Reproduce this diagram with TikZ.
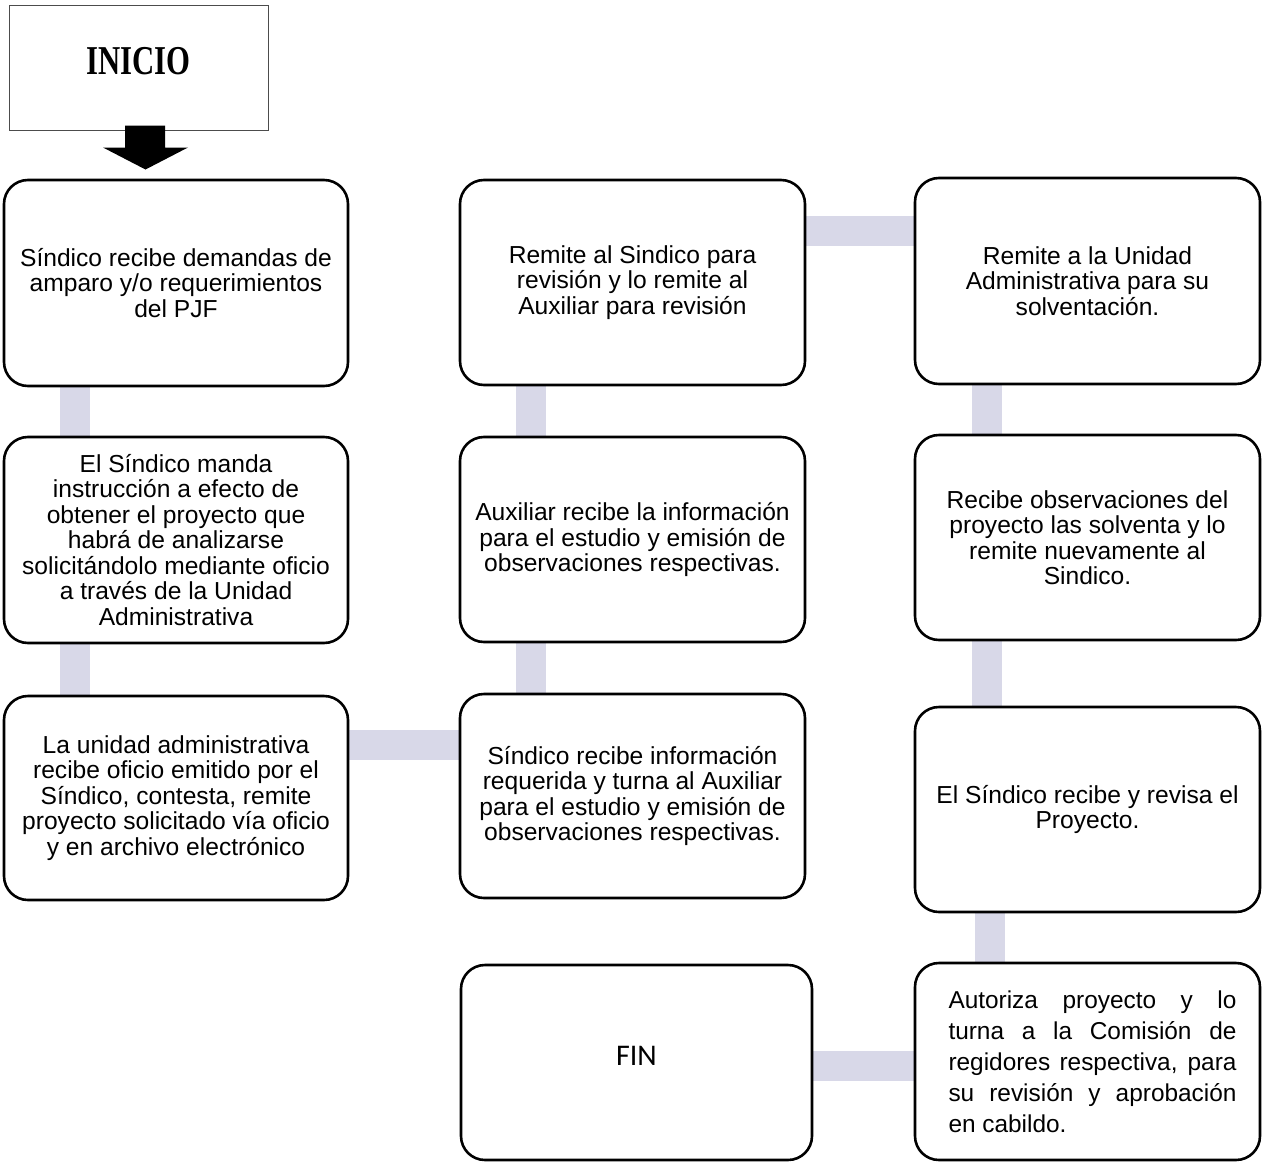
\documentclass[tikz,border=0pt]{standalone}
\usepackage{fontspec}
\setmainfont{Liberation Sans}
\newfontfamily\headfont{Liberation Serif}
\newfontfamily\endfont{Carlito}
\usetikzlibrary{calc,backgrounds}
\definecolor{linkfill}{HTML}{D8D8E8}
\tikzset{
  stepbox/.style={draw=black, line width=2.6pt, rounded corners=24pt, fill=white,
    align=center, inner sep=0pt, font=\fontsize{24.6}{25.5}\selectfont},
  startbox/.style={draw=black!70, line width=1pt, fill=white, inner sep=0pt,
    minimum width=259pt, minimum height=125pt},
  link/.style={draw=linkfill, line width=30pt}
}
\begin{document}
\begin{tikzpicture}[x=1pt,y=1pt]
\useasboundingbox (0,0) rectangle (1267,-1162);

% start box
\node[startbox] (inicio) at (138.5,-67.5)
  {\raisebox{13pt}{\scalebox{0.75}[1]{\headfont\bfseries\fontsize{41}{42}\selectfont INICIO}}};

% process boxes, column 1
\node[stepbox, minimum width=344pt, minimum height=206pt] (a1) at (176,-283)
  {Síndico recibe demandas de\\amparo y/o requerimientos\\del PJF};
\node[stepbox, minimum width=344pt, minimum height=206pt] (a2) at (176,-540)
  {El Síndico manda\\instrucción a efecto de\\obtener el proyecto que\\habrá de analizarse\\solicitándolo mediante oficio\\a través de la Unidad\\Administrativa};
\node[stepbox, minimum width=344pt, minimum height=204pt] (a3) at (176,-798)
  {La unidad administrativa\\recibe oficio emitido por el\\Síndico, contesta, remite\\proyecto solicitado vía oficio\\y en archivo electrónico};

% column 2
\node[stepbox, minimum width=345pt, minimum height=205pt] (b1) at (632.5,-282.5)
  {Remite al Sindico para\\revisión y lo remite al\\Auxiliar para revisión};
\node[stepbox, minimum width=345pt, minimum height=205pt] (b2) at (632.5,-539.5)
  {Auxiliar recibe la información\\para el estudio y emisión de\\observaciones respectivas.};
\node[stepbox, minimum width=345pt, minimum height=204pt] (b3) at (632.5,-796)
  {Síndico recibe información\\requerida y turna al Auxiliar\\para el estudio y emisión de\\observaciones respectivas.};
\node[stepbox, minimum width=351pt, minimum height=195pt] (fin) at (636.5,-1062.5)
  {\raisebox{13pt}{\endfont\fontsize{30}{32}\selectfont FIN}};

% column 3
\node[stepbox, minimum width=345pt, minimum height=206pt] (c1) at (1087.5,-281)
  {Remite a la Unidad\\Administrativa para su\\solventación.};
\node[stepbox, minimum width=345pt, minimum height=205pt] (c2) at (1087.5,-537.5)
  {Recibe observaciones del\\proyecto las solventa y lo\\remite nuevamente al\\Sindico.};
\node[stepbox, minimum width=345pt, minimum height=205pt] (c3) at (1087.5,-809.5)
  {El Síndico recibe y revisa el\\Proyecto.};
\node[stepbox, minimum width=345pt, minimum height=197pt] (c4) at (1087.5,-1061.5)
  {\hspace*{10pt}\parbox{288pt}{\fontsize{24.4}{31}\selectfont
   Autoriza proyecto y lo\linebreak turna a la Comisión de\linebreak
   regidores respectiva, para\linebreak su revisión y aprobación\linebreak
   en cabildo.}};

% connectors, drawn behind the boxes
\begin{scope}[on background layer]
  \draw[link] ([xshift=-101pt]a1.south) -- ([xshift=-101pt]a2.north);
  \draw[link] ([xshift=-101pt]a2.south) -- ([xshift=-101pt]a3.north);
  \draw[link] ([yshift=53pt]a3.east) -- ([yshift=53pt]a3.east -| b3.west);
  \draw[link] ([xshift=-101.5pt]b3.north) -- ([xshift=-101.5pt]b2.south);
  \draw[link] ([xshift=-101.5pt]b2.north) -- ([xshift=-101.5pt]b1.south);
  \draw[link] ([yshift=52pt]b1.east) -- ([yshift=52pt]b1.east -| c1.west);
  \draw[link] ([xshift=-100.5pt]c1.south) -- ([xshift=-100.5pt]c2.north);
  \draw[link] ([xshift=-100.5pt]c2.south) -- ([xshift=-100.5pt]c3.north);
  \draw[link] ([xshift=-97.5pt]c3.south) -- ([xshift=-97.5pt]c4.north);
  \draw[link] ([yshift=-4pt]c4.west) -- ([yshift=-4pt]c4.west -| fin.east);
\end{scope}

% block arrow from the start box
\fill[black] ($(inicio.south)+(-13.5,5)$) -- ++(40,0) -- ++(0,-22) -- ++(23,0)
  -- ++(-42.5,-22) -- ++(-42.5,22) -- ++(22,0) -- cycle;
\end{tikzpicture}
\end{document}
